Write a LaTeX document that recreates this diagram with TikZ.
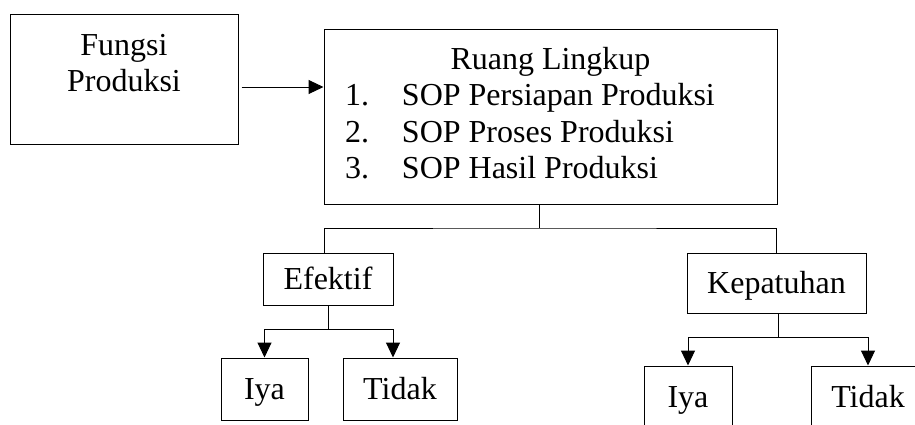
\documentclass[tikz,border=0pt]{standalone}
\usepackage{fontspec}
\setmainfont{Liberation Serif}
\usepackage{array}
\usetikzlibrary{arrows.meta}

\tikzset{
  box/.style={draw, inner sep=0pt, text height=20pt, text depth=0pt},
  bigbox/.style={draw, inner sep=0pt},
  arr/.style={-{Triangle[length=15pt,width=14pt]}},
}

\begin{document}
\begin{tikzpicture}[x=1pt, y=-1pt, line width=1pt, font=\fontsize{32}{36.5}\selectfont]
  \useasboundingbox (0,0) rectangle (915,424);

  % Input box on the left
  \node[bigbox, minimum width=228pt, minimum height=130pt] (fungsi) at (124,79)
    {\begin{tabular}{@{}c@{}}Fungsi\\Produksi\\[26pt]\end{tabular}};

  % Scope box
  \node[bigbox, minimum width=453pt, minimum height=175pt] (ruang) at (550.5,116.5)
    {\begin{tabular}{@{}p{57pt}@{}p{354pt}@{}}
      \multicolumn{2}{@{}c@{}}{Ruang Lingkup}\\
      1. & SOP Persiapan Produksi\\
      2. & SOP Proses Produksi\\
      3. & SOP Hasil Produksi
    \end{tabular}};

  % Second level
  \node[box, minimum width=130pt, minimum height=52pt] (efektif) at (328,279) {Efektif};
  \node[box, minimum width=179pt, minimum height=60pt] (kepatuhan) at (776.5,283) {Kepatuhan};

  % Answers
  \node[box, minimum width=87pt, minimum height=62pt] (iya1) at (264.5,389) {Iya};
  \node[box, minimum width=114pt, minimum height=62pt] (tidak1) at (400,389) {Tidak};
  \node[box, minimum width=88pt, minimum height=62pt] (iya2) at (688,397) {Iya};
  \node[box, minimum width=114pt, minimum height=62pt] (tidak2) at (868,397) {Tidak};

  % Arrow into scope box
  \draw[arr] ([xshift=3pt,yshift=-8pt]fungsi.east) -- ([yshift=-8pt]fungsi.east -| ruang.west);

  % Split under scope box
  \coordinate (bus) at (539,228);
  \draw ([xshift=-11.5pt]ruang.south) -- (bus);
  \draw ([xshift=-4pt]efektif.north) |- (bus) -| (kepatuhan.north);

  % Efektif branches
  \draw (efektif.south) -- ++(0,24) coordinate (efork);
  \draw[arr] (efork) -| (iya1.north);
  \draw[arr] (efork) -| ([xshift=-7pt]tidak1.north);

  % Kepatuhan branches
  \draw ([xshift=1.5pt]kepatuhan.south) -- ++(0,24) coordinate (kfork);
  \draw[arr] (kfork) -| (iya2.north);
  \draw[arr] (kfork) -| (tidak2.north);
\end{tikzpicture}
\end{document}
